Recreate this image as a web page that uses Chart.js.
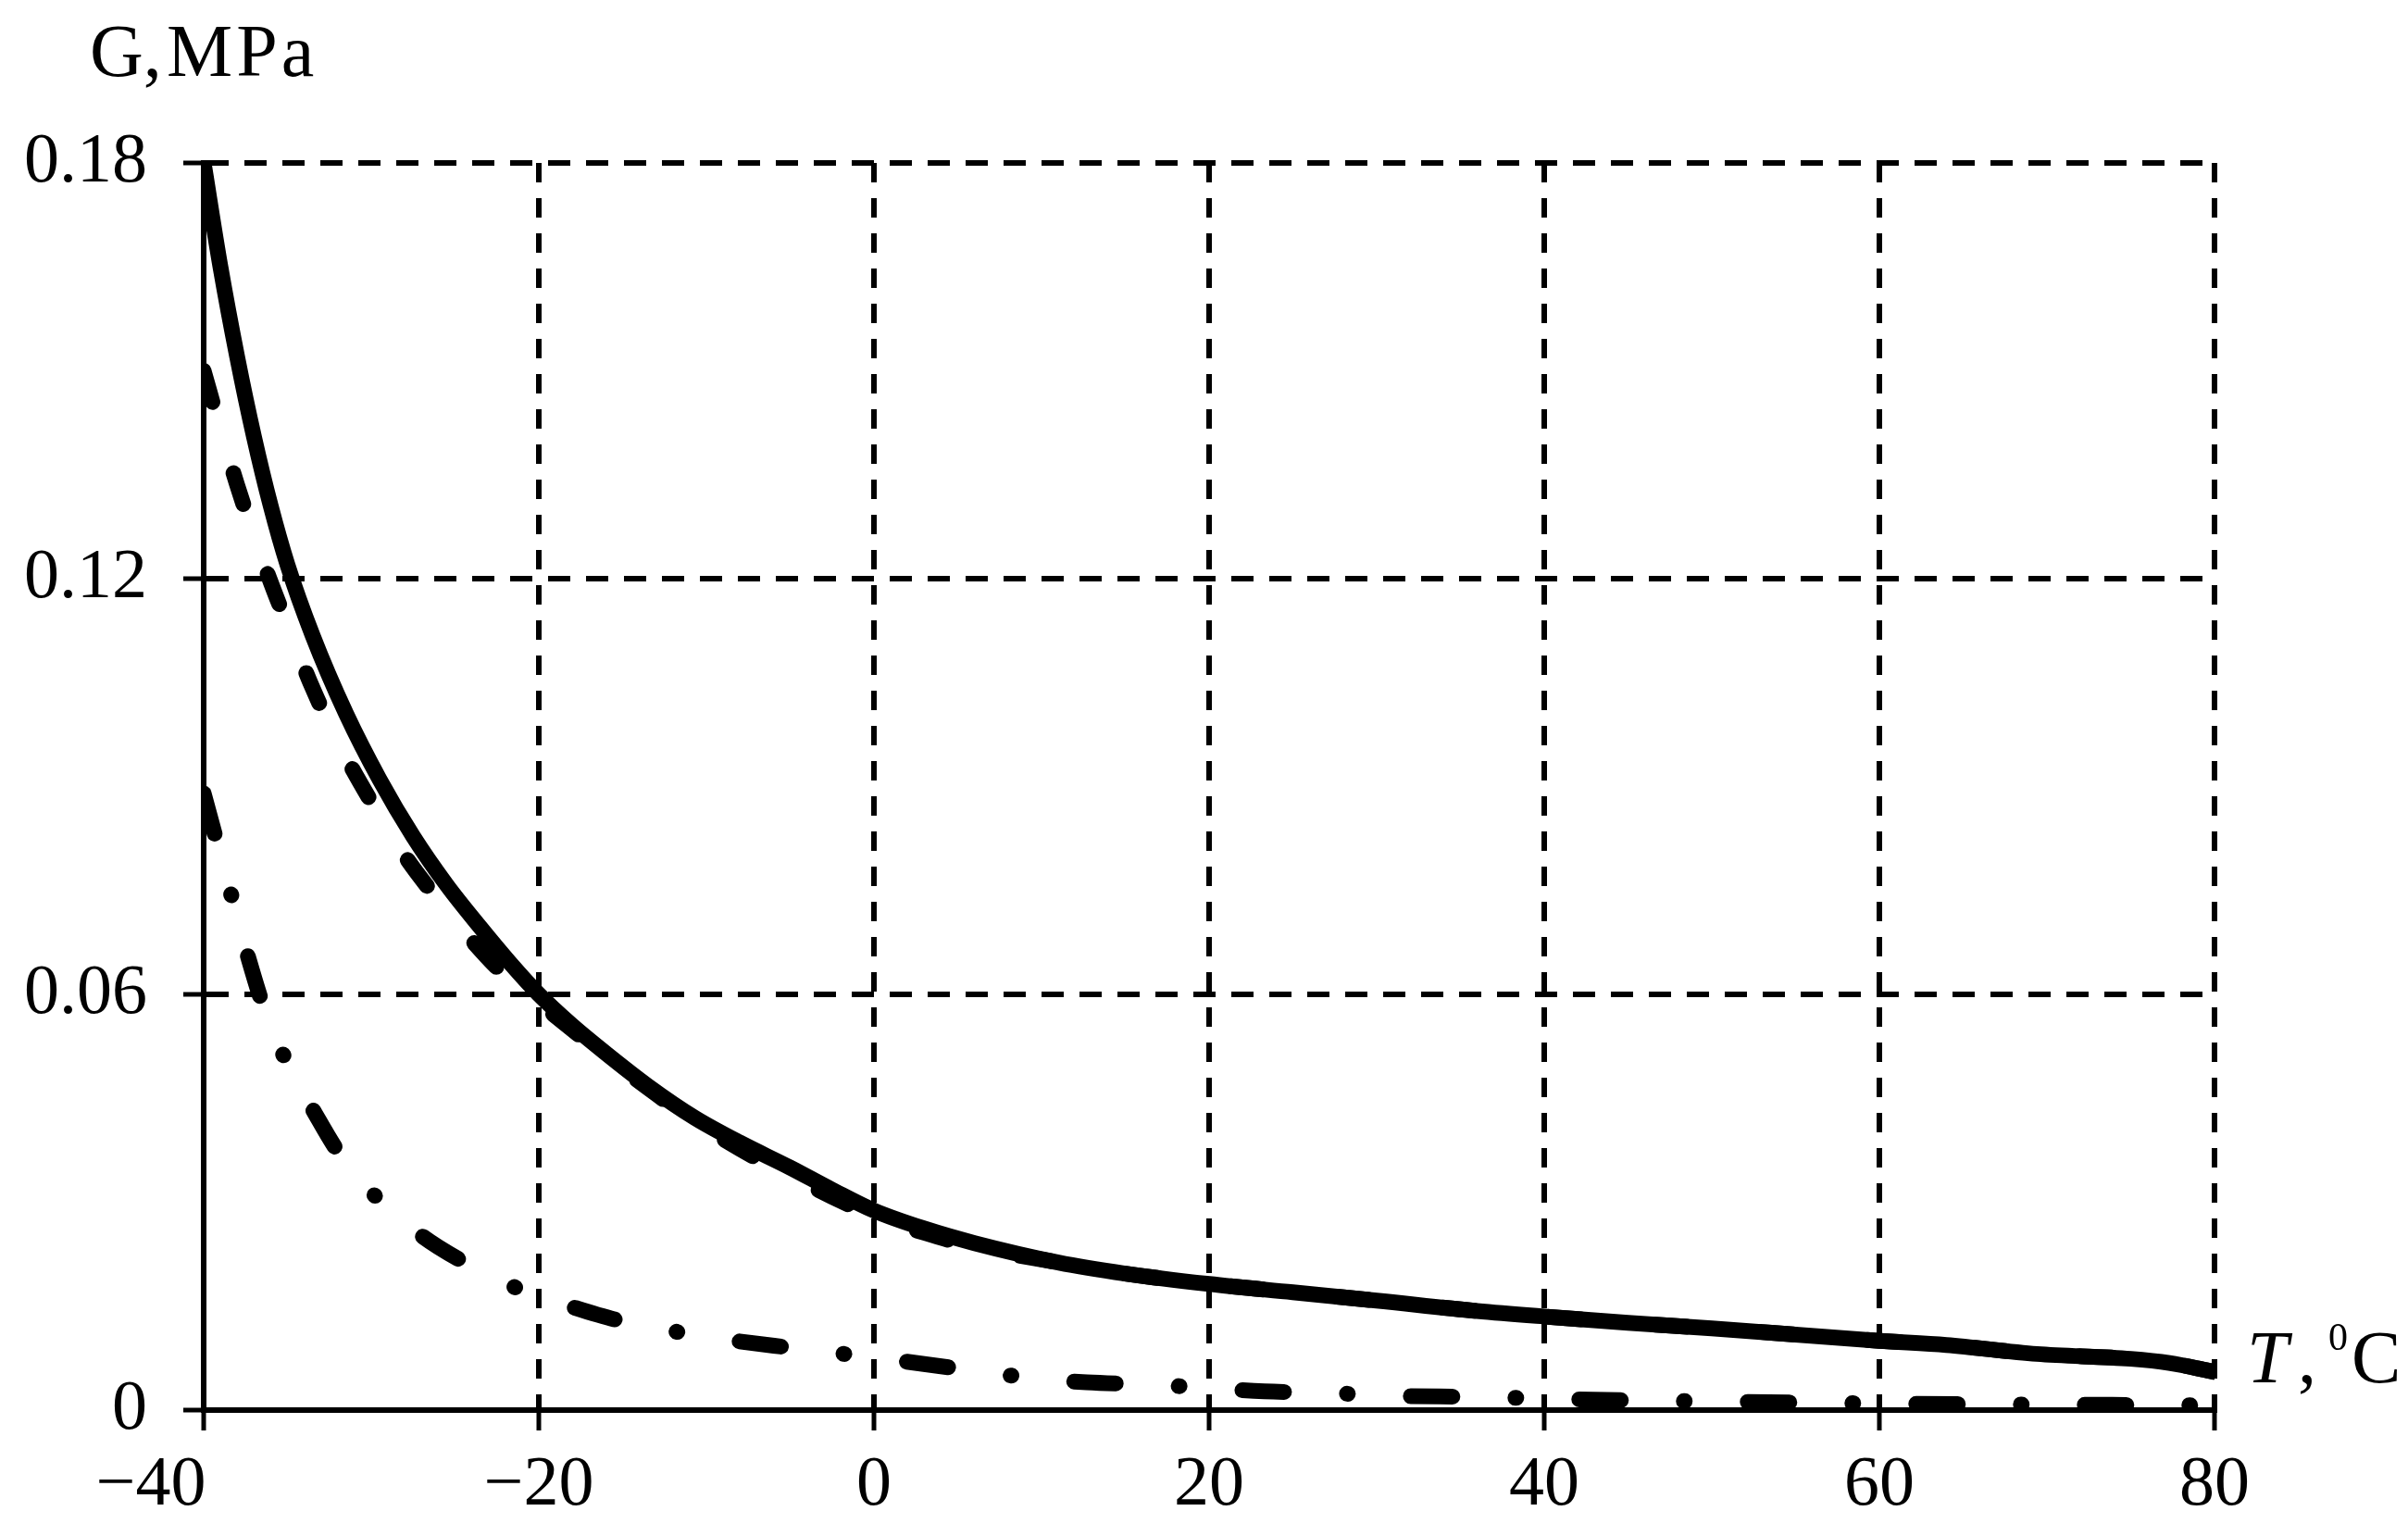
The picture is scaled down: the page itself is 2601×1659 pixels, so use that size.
<!DOCTYPE html>
<html>
<head>
<meta charset="utf-8">
<script src="https://cdn.jsdelivr.net/npm/chart.js@4.4.1/dist/chart.umd.min.js"></script>
<style>
  html, body { margin: 0; padding: 0; background: #fff; }
  #wrap { width: 2601px; height: 1659px; }
</style>
</head>
<body>
<div id="wrap"><canvas id="shearChart" width="2601" height="1659"></canvas></div>
<script>
// ===== Data (T in °C, G in MPa) =====
const tempSolid = [-40, -39, -38, -37, -36, -35, -33.5, -31.5, -29.5, -27.5, -25.5, -23.5, -21.7, -20, -18, -16, -13.5, -10.7, -8, -5, -2.5, 0, 3, 6, 11, 15, 20, 25, 30, 36, 40, 45, 50, 55, 60, 64, 69.4, 75, 77.3, 80];
const gSolid = [0.180, 0.165, 0.152, 0.1405, 0.1305, 0.1220, 0.1118, 0.1005, 0.0910, 0.0828, 0.0758, 0.0697, 0.0645, 0.060, 0.0555, 0.0515, 0.0468, 0.0422, 0.0386, 0.0350, 0.0318, 0.0288, 0.0262, 0.0241, 0.0213, 0.0197, 0.0182, 0.0170, 0.0158, 0.0143, 0.0135, 0.0126, 0.0118, 0.0109, 0.0100, 0.0094, 0.0081, 0.0074, 0.0068, 0.0055];

const tempDashed = [-40, -39, -38, -37, -36, -35, -33.5, -32, -30, -28, -26, -24, -22, -20, -17, -14, -11, -8, -5, -2.5, 0, 3, 6, 11, 15, 20, 25, 30, 36, 40, 45, 50, 55, 60, 64, 69.4, 75, 77.3, 80];
const gDashed = [0.150, 0.1415, 0.1335, 0.1262, 0.1195, 0.1133, 0.1042, 0.0965, 0.0878, 0.0800, 0.0736, 0.0678, 0.0627, 0.0588, 0.0530, 0.0474, 0.0422, 0.0377, 0.0338, 0.0308, 0.0280, 0.0256, 0.0236, 0.0213, 0.0197, 0.0182, 0.0170, 0.0158, 0.0143, 0.0135, 0.0126, 0.0118, 0.0109, 0.0100, 0.0094, 0.0081, 0.0074, 0.0068, 0.0055];

const tempDashDot = [-40, -39.1, -38.2, -37.3, -36.4, -35, -33.4, -31.9, -29.6, -26.9, -24.5, -21.4, -17.9, -15.5, -10, -5, 0, 5, 9.2, 12.7, 16.5, 19.8, 23.3, 27, 30.4, 36, 41, 48, 55, 62, 70, 80];
const gDashDot = [0.089, 0.081, 0.073, 0.065, 0.058, 0.050, 0.043, 0.037, 0.0305, 0.0250, 0.0214, 0.0177, 0.0148, 0.0131, 0.0106, 0.0090, 0.0076, 0.0060, 0.0047, 0.0040, 0.0037, 0.0032, 0.0027, 0.0025, 0.0021, 0.0019, 0.0016, 0.0013, 0.0011, 0.0009, 0.0008, 0.0007];

const xTicks = [-40, -20, 0, 20, 40, 60, 80];
const yTicks = [0, 0.06, 0.12, 0.18];

const FONT = '"Liberation Serif", "Times New Roman", serif';

const toPoints = (xs, ys) => xs.map((x, i) => ({ x: x, y: ys[i] }));

// ===== Axis titles drawn on the canvas =====
const axisTitles = {
  id: "axisTitles",
  afterDraw(chart) {
    const ctx = chart.ctx;
    ctx.save();
    ctx.fillStyle = "#000";
    ctx.textBaseline = "alphabetic";
    ctx.textAlign = "left";

    // G,MPa
    ctx.font = "80px " + FONT;
    ctx.fillText("G,", 97, 82);
    ctx.letterSpacing = "4px";
    ctx.fillText("MPa", 180, 82);
    ctx.letterSpacing = "0px";

    // T, ⁰C
    ctx.font = "italic 80px " + FONT;
    ctx.fillText("T", 2427, 1493);
    ctx.font = "80px " + FONT;
    ctx.fillText(",", 2482, 1493);
    ctx.font = "42px " + FONT;
    ctx.fillText("0", 2515, 1458);
    ctx.font = "80px " + FONT;
    ctx.fillText("C", 2540, 1493);
    ctx.restore();
  }
};

const line = (data, dash, cap) => ({
  data: data,
  borderColor: "#000",
  borderWidth: 17,
  borderDash: dash,
  borderCapStyle: cap,
  borderJoinStyle: "round",
  pointRadius: 0,
  cubicInterpolationMode: "monotone",
  fill: false
});

// first label sits left of the axis in the original, pad it with figure spaces
const xLabel = (v) => {
  if (v === -40) return "\u221240\u2007\u2007\u2007";
  return v < 0 ? "\u2212" + Math.abs(v) : String(v);
};

new Chart(document.getElementById("shearChart"), {
  type: "line",
  data: {
    datasets: [
      line(toPoints(tempSolid, gSolid), [], "butt"),
      line(toPoints(tempDashed, gDashed), [35, 80], "round"),
      line(toPoints(tempDashDot, gDashDot), [45, 68, 1, 68], "round")
    ]
  },
  options: {
    responsive: false,
    animation: false,
    events: [],
    layout: { padding: { left: 0, top: 176, right: 209, bottom: 0 } },
    plugins: { legend: { display: false }, tooltip: { enabled: false } },
    scales: {
      x: {
        type: "linear",
        min: -40,
        max: 80,
        afterBuildTicks: (s) => { s.ticks = xTicks.map((v) => ({ value: v })); },
        afterFit: (s) => { s.height = 136; },
        grid: { color: "#000", lineWidth: 6, tickLength: 22, tickColor: "#000", tickWidth: 5 },
        border: { display: true, color: "#000", width: 6, dash: [21, 17] },
        ticks: {
          color: "#000",
          padding: 14,
          maxRotation: 0,
          autoSkip: false,
          font: { family: FONT, size: 76 },
          callback: xLabel
        }
      },
      y: {
        type: "linear",
        min: 0,
        max: 0.18,
        afterBuildTicks: (s) => { s.ticks = yTicks.map((v) => ({ value: v })); },
        afterFit: (s) => { s.width = 220; },
        grid: { color: "#000", lineWidth: 6, tickLength: 22, tickColor: "#000", tickWidth: 5 },
        border: { display: true, color: "#000", width: 6, dash: [24, 17] },
        ticks: {
          color: "#000",
          padding: 39,
          autoSkip: false,
          font: { family: FONT, size: 76 },
          callback: (v) => String(v)
        }
      }
    }
  },
  plugins: [axisTitles]
});
</script>
</body>
</html>
